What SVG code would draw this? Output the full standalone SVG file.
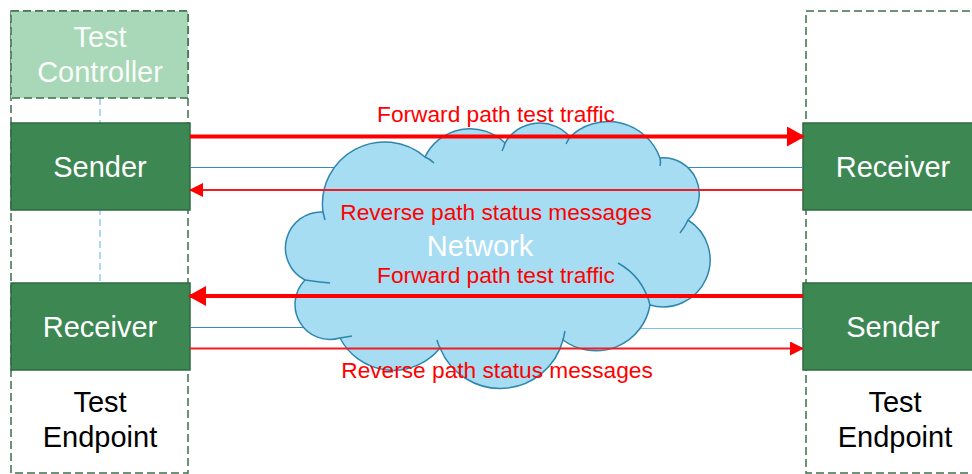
<svg xmlns="http://www.w3.org/2000/svg" width="972" height="474" viewBox="0 0 972 474">
<defs>
<style>
.cont{fill:none;stroke:#3f6f4c;stroke-width:1.5;stroke-dasharray:8,4}
.box{fill:#3d8753;stroke:#2f6a41;stroke-width:1.5}
.ctrl{fill:#a9d8b8;stroke:#3f6f4c;stroke-width:1.5;stroke-dasharray:8,4}
.wt{font-family:"Liberation Sans",Arial,sans-serif;font-size:29px;fill:#ffffff;text-anchor:middle}
.bt{font-family:"Liberation Sans",Arial,sans-serif;font-size:29px;fill:#000000;text-anchor:middle}
.rt{font-family:"Liberation Sans",Arial,sans-serif;font-size:22.7px;fill:#ff0000;text-anchor:middle}
.thick{stroke:#ff0000;stroke-width:4;fill:none}
.thin{stroke:#ee1c24;stroke-width:2;fill:none}
.blue{stroke:#3a8ab8;stroke-width:1;fill:none}
</style>
<marker id="ahT" markerWidth="4.5" markerHeight="5" refX="4" refY="2.5" orient="auto" markerUnits="strokeWidth" viewBox="0 0 4.5 5">
<path d="M0,0 L4.5,2.5 L0,5 Z" fill="#ff0000"/>
</marker>
<marker id="ahS" markerWidth="7" markerHeight="7" refX="6.5" refY="3.5" orient="auto" markerUnits="strokeWidth" viewBox="0 0 7 7">
<path d="M0,0 L7,3.5 L0,7 Z" fill="#ff0000"/>
</marker>
</defs>
<rect width="972" height="474" fill="#ffffff"/>

<g id="left-endpoint">
<rect class="cont" x="11" y="11" width="177" height="462"/>
<text class="bt" x="100" y="412">Test</text>
<text class="bt" x="100" y="447">Endpoint</text>
</g>
<g id="right-endpoint">
<rect class="cont" x="806" y="11" width="180" height="462"/>
<text class="bt" x="895" y="412">Test</text>
<text class="bt" x="895" y="447">Endpoint</text>
</g>

<g id="controller-link">
<line x1="100" y1="98" x2="100" y2="283" stroke="#5ab4e0" stroke-width="1" stroke-dasharray="7,4"/>
</g>

<g id="test-controller">
<rect class="ctrl" x="11" y="11" width="177" height="87"/>
<text class="wt" x="100" y="47" fill-opacity="0.95">Test</text>
<text class="wt" x="100" y="82" fill-opacity="0.95">Controller</text>
</g>

<g id="sender-left">
<rect class="box" x="11" y="123" width="179" height="87"/>
<text class="wt" x="100" y="177">Sender</text>
</g>
<g id="receiver-left">
<rect class="box" x="11" y="283" width="179" height="87"/>
<text class="wt" x="100" y="337">Receiver</text>
</g>
<g id="receiver-right">
<rect class="box" x="803" y="123" width="180" height="87"/>
<text class="wt" x="893" y="177">Receiver</text>
</g>
<g id="sender-right">
<rect class="box" x="803" y="283" width="180" height="87"/>
<text class="wt" x="893" y="337">Sender</text>
</g>

<g id="control-lines">
<line class="blue" x1="190" y1="167.5" x2="803" y2="167.5"/>
<line class="blue" x1="190" y1="327.5" x2="400" y2="327.5"/>
<line x1="600" y1="328.5" x2="803" y2="328.5" stroke="#7cc3e3" stroke-width="1.2"/>
</g>

<g id="network">
<path d="M323,212 A62,62 0 0 1 425,157 A50,50 0 0 1 505,143 A40,40 0 0 1 570,137 A55,55 0 0 1 660,158 A36,36 0 0 1 688,220 A47,47 0 0 1 650,305 A55,55 0 0 1 563,340 A65,65 0 0 1 440,348 A60,60 0 0 1 340,338 A35,35 0 0 1 305,280 A36,36 0 0 1 323,212 Z" fill="#a6ddf2" stroke="#2f86ad" stroke-width="1.5"/>
<g fill="none" stroke="#2f86ad" stroke-width="1.5">
<path d="M425,157 Q430,159 434,163"/>
<path d="M505,143 Q504,147 502,151"/>
<path d="M570,137 Q568,140 566,144"/>
<path d="M660,158 Q661,162 660,166"/>
<path d="M688,220 Q685,227 680,233"/>
<path d="M618,263 Q643,277 650,305"/>
<path d="M563,340 Q564,336 565,331"/>
<path d="M440,348 Q438,344 437,340"/>
<path d="M340,338 Q346,337 352,336"/>
<path d="M305,280 Q318,282 330,283"/>
<path d="M323,212 Q324,216 325,220"/>
</g>
<text class="wt" x="480" y="255.5">Network</text>
</g>

<g id="connectors">
<line class="thick" x1="190" y1="136.5" x2="803" y2="136.5" marker-end="url(#ahT)"/>
<line class="thin" x1="803" y1="190" x2="190" y2="190" marker-end="url(#ahS)"/>
<line class="thick" x1="803" y1="296" x2="190" y2="296" marker-end="url(#ahT)"/>
<line class="thin" x1="190" y1="348.5" x2="803" y2="348.5" marker-end="url(#ahS)"/>
</g>

<g id="labels">
<text class="rt" x="496" y="122">Forward path test traffic</text>
<text class="rt" x="496" y="220">Reverse path status messages</text>
<text class="rt" x="496" y="283">Forward path test traffic</text>
<text class="rt" x="497" y="378">Reverse path status messages</text>
</g>
</svg>
